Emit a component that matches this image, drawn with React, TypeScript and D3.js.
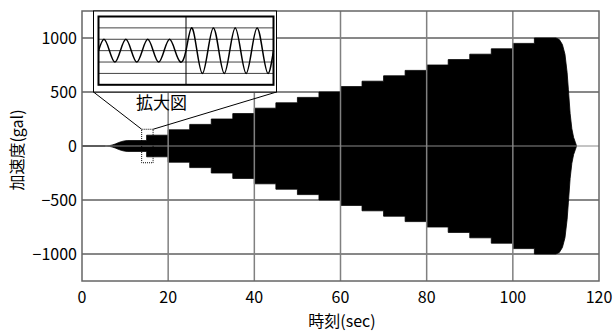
import React from "react";
import * as d3 from "d3";

// ---- data ----
const xTicks = [0, 20, 40, 60, 80, 100, 120];
const yTicks = [-1000, -500, 0, 500, 1000];
const yTickLabels = ["−1000", "−500", "0", "500", "1000"];

// envelope of the acceleration record (gal)
const taperTime = [0, 5.5, 6.3, 7.0, 7.7, 8.4, 9.1, 9.8, 10.5];
const taperAmp = [0, 0, 3, 9, 18, 30, 40, 47, 50];
const stepTime = [15, 20, 25, 30, 35, 40, 45, 50, 55, 60, 65, 70, 75, 80, 85, 90, 95, 100, 105];
const stepAmp = [100, 150, 200, 250, 300, 350, 400, 450, 500, 550, 600, 650, 700, 750, 800, 850, 900, 950, 1000];
const decayTime = [110, 110.8, 111.5, 112.1, 112.6, 112.9, 113.3, 113.7, 114.1, 114.5, 114.8];
const decayAmp = [1000, 985, 940, 850, 680, 520, 300, 160, 80, 35, 0];

// zoomed region (dotted box)
const zoomTime = [13.85, 16.5];
const zoomAmp = [-155, 155];

// inset wave (quarter cycles)
const insetT = [0, 0.25, 0.5, 0.75, 1, 1.25, 1.5, 1.75, 2, 2.25, 2.5, 2.75, 3, 3.25, 3.5, 3.75, 4,
  4.25, 4.5, 4.75, 5, 5.25, 5.5, 5.75, 6, 6.25, 6.5, 6.75, 7, 7.25, 7.5, 7.75, 8];
const insetV = [0, 1, 0, -1, 0, 1, 0, -1, 0, 1, 0, -1, 0, 1, 0, -1, 0,
  2, 0, -2, 0, 2, 0, -2, 0, 2, 0, -2, 0, 2, 0, -2, 0];
const insetGrid = [-2, -1, 0, 1, 2];

const W = 614, H = 331;
const FONT = "'Noto Sans CJK JP', 'Noto Sans', sans-serif";

export default function App() {
  const x = d3.scaleLinear().domain([0, 120]).range([82, 599]);
  const y = d3.scaleLinear().domain([-1250, 1250]).range([281, 11]);

  // build envelope points
  const env: [number, number][] = [];
  taperTime.forEach((t, i) => env.push([t, taperAmp[i]]));
  let prev = taperAmp[taperAmp.length - 1];
  stepTime.forEach((t, i) => {
    env.push([t, prev]);
    env.push([t, stepAmp[i]]);
    prev = stepAmp[i];
  });
  decayTime.forEach((t, i) => env.push([t, decayAmp[i]]));

  const area = d3.area<[number, number]>()
    .x(d => x(d[0]))
    .y0(d => y(-d[1]))
    .y1(d => y(d[1]))
    .curve(d3.curveLinear);

  // inset
  const ix = d3.scaleLinear().domain([0, 8]).range([98.5, 273.5]);
  const iy = d3.scaleLinear().domain([-3, 3]).range([84.8, 16.5]);
  const wave = d3.line<number>()
    .x((_, i) => ix(insetT[i]))
    .y(d => iy(d))
    .curve(d3.curveNatural);

  const outer = { x0: 93.5, y0: 11, x1: 276.5, y1: 92 };
  const zx0 = x(zoomTime[0]), zx1 = x(zoomTime[1]);
  const zy0 = y(zoomAmp[1]), zy1 = y(zoomAmp[0]);

  return (
    <svg width={W} height={H} style={{ position: "absolute", left: 0, top: 0, background: "#fff" }}
      fontFamily={FONT}>
      <rect x={0} y={0} width={W} height={H} fill="#fff" />
      {/* horizontal grid */}
      {yTicks.filter(v => v !== 0).map(v => (
        <line key={"h" + v} x1={x(0)} x2={x(120)} y1={y(v)} y2={y(v)} stroke="#111" strokeWidth={1} />
      ))}
      {/* signal envelope */}
      <path d={area(env) || ""} fill="#000" stroke="#000" strokeWidth={0.8} />
      {/* vertical grid & zero line on top */}
      {xTicks.slice(1, -1).map(v => (
        <line key={"v" + v} x1={x(v)} x2={x(v)} y1={y(1250)} y2={y(-1250)} stroke="#808080" strokeWidth={1.5} />
      ))}
      <line x1={x(taperTime[1])} x2={x(120)} y1={y(0)} y2={y(0)} stroke="#8a8a8a" strokeWidth={1} />
      {/* frame */}
      <rect x={x(0)} y={y(1250)} width={x(120) - x(0)} height={y(-1250) - y(1250)} fill="none" stroke="#666" strokeWidth={1.5} />
      {/* dotted zoom box */}
      <rect x={zx0} y={zy0} width={zx1 - zx0} height={zy1 - zy0} fill="none" stroke="#000" strokeWidth={1} strokeDasharray="1,1" />
      {/* connectors */}
      <line x1={zx0} y1={zy0} x2={outer.x0} y2={outer.y1} stroke="#000" strokeWidth={1} />
      <line x1={zx1} y1={zy0} x2={outer.x1} y2={outer.y1} stroke="#000" strokeWidth={1} />
      {/* inset outer box */}
      <rect x={outer.x0} y={outer.y0} width={outer.x1 - outer.x0} height={outer.y1 - outer.y0} fill="#fff" stroke="#000" strokeWidth={1} />
      {insetGrid.map(v => (
        <line key={"ig" + v} x1={ix(0)} x2={ix(8)} y1={iy(v)} y2={iy(v)} stroke="#444" strokeWidth={1} />
      ))}
      <line x1={ix(4)} x2={ix(4)} y1={iy(3)} y2={iy(-3)} stroke="#000" strokeWidth={1} />
      <path d={wave(insetV) || ""} fill="none" stroke="#000" strokeWidth={1.5} />
      <rect x={ix(0)} y={iy(3)} width={ix(8) - ix(0)} height={iy(-3) - iy(3)} fill="none" stroke="#000" strokeWidth={2} />
      <text x={161.5} y={109} textAnchor="middle" fontSize={17} fill="#000">拡大図</text>
      {/* tick labels */}
      {yTicks.map((v, i) => (
        <text key={"yt" + v} x={77} y={y(v)} dy="0.35em" textAnchor="end" fontSize={16} fill="#000">{yTickLabels[i]}</text>
      ))}
      {xTicks.map(v => (
        <text key={"xt" + v} x={x(v)} y={303} textAnchor="middle" fontSize={16} fill="#000">{v}</text>
      ))}
      <text x={342} y={327} textAnchor="middle" fontSize={16} fill="#000">時刻(sec)</text>
      <text transform="translate(23,150) rotate(-90)" textAnchor="middle" fontSize={16} fill="#000">加速度(gal)</text>
    </svg>
  );
}
